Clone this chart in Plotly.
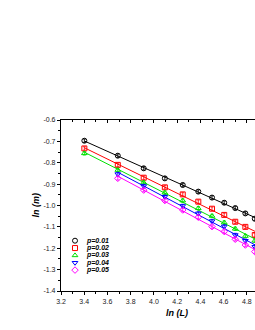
import numpy as np
import plotly.graph_objects as go

# ---- data ----
lnL_all = [3.401, 3.689, 3.912, 4.094, 4.248, 4.382, 4.500, 4.605, 4.700, 4.787, 4.868]
labels = ["p=0.01", "p=0.02", "p=0.03", "p=0.04", "p=0.05"]
p001 = [-0.697, -0.767, -0.826, -0.873, -0.904, -0.935, -0.963, -0.987, -1.012, -1.037, -1.062]
p002 = [-0.733, -0.810, -0.870, -0.915, -0.948, -0.982, -1.015, -1.044, -1.076, -1.100, -1.138]
p003 = [-0.756, -0.834, -0.893, -0.940, -0.977, -1.013, -1.049, -1.080, -1.109, -1.143, -1.165]
p004 = [None, -0.853, -0.909, -0.959, -1.002, -1.037, -1.073, -1.098, -1.138, -1.165, -1.193]
p005 = [None, -0.873, -0.928, -0.977, -1.021, -1.055, -1.099, -1.122, -1.158, -1.185, -1.216]
err = 0.008

series = [p001, p002, p003, p004, p005]
colors = ["#000000", "#FF0000", "#00E000", "#0000FF", "#FF00FF"]
symbols = ["circle-open", "square-open", "triangle-up-open", "triangle-down-open", "diamond-open"]

xticks = [3.2, 3.4, 3.6, 3.8, 4.0, 4.2, 4.4, 4.6, 4.8]
yticks = [-0.6, -0.7, -0.8, -0.9, -1.0, -1.1, -1.2, -1.3, -1.4]

W, H = 255, 330
L, T, B = 61, 120, 291
XR = [3.2, 4.87]
YR = [-1.4, -0.6]

fig = go.Figure()
for ys, c, s, name in zip(series, colors, symbols, labels):
    xs = [x for x, y in zip(lnL_all, ys) if y is not None]
    yv = [y for y in ys if y is not None]
    k, b0 = np.polyfit(xs, yv, 1)
    xf = np.array([xs[0], XR[1] + 0.05])
    fig.add_trace(go.Scatter(x=xf, y=k * xf + b0, mode="lines",
                             line=dict(color=c, width=1), showlegend=False, hoverinfo="skip", cliponaxis=True))
    fig.add_trace(go.Scatter(x=xs, y=yv, mode="markers", name=name,
                             marker=dict(symbol=s, size=5, color=c, line=dict(width=1, color=c)),
                             error_y=dict(type="constant", value=err, color=c, thickness=0.8, width=1.5),
                             showlegend=False, cliponaxis=True))

# hidden trace for top mirror axis
fig.add_trace(go.Scatter(x=[XR[0]], y=[YR[0]], xaxis="x2", yaxis="y", mode="markers",
                         marker=dict(opacity=0), showlegend=False, hoverinfo="skip"))

# manual compact legend (pixel-like coordinates on auxiliary overlaid axes)
leg_x_sym, leg_x_txt, leg_y0, leg_dy = 75, 84, 240.7, 7.35
for i, (name, c, s) in enumerate(zip(labels, colors, symbols)):
    yy = leg_y0 + i * leg_dy
    fig.add_trace(go.Scatter(x=[leg_x_sym], y=[yy], xaxis="x3", yaxis="y3", mode="markers",
                             marker=dict(symbol=s, size=5, color=c, line=dict(width=1, color=c)),
                             showlegend=False, hoverinfo="skip"))
    fig.add_annotation(x=leg_x_txt, y=yy, xref="x3", yref="y3", text="<b><i>%s</i></b>" % name,
                       showarrow=False, xanchor="left", yanchor="middle",
                       font=dict(family="Liberation Sans, Arial", size=7, color="#000"))

axis_font = dict(family="Liberation Sans, Arial", size=7, color="#222")
fig.update_layout(
    width=W, height=H,
    margin=dict(l=L, r=0, t=T, b=H - B),
    plot_bgcolor="white", paper_bgcolor="white",
    showlegend=False,
    xaxis=dict(range=XR, tickvals=xticks, ticktext=["%.1f" % v for v in xticks],
               showline=True, linecolor="black", linewidth=1.2, mirror=False,
               ticks="outside", ticklen=3, tickwidth=1, tickcolor="black",
               minor=dict(dtick=0.1, tick0=3.2, ticks="outside", ticklen=2, tickcolor="black", showgrid=False),
               showgrid=False, zeroline=False, tickfont=axis_font, automargin=False),
    xaxis2=dict(range=XR, overlaying="x", side="top", anchor="y",
                tickvals=xticks, showticklabels=False,
                showline=True, linecolor="black", linewidth=1.2,
                ticks="inside", ticklen=3, tickwidth=1, tickcolor="black",
                minor=dict(dtick=0.1, tick0=3.2, ticks="inside", ticklen=2, tickcolor="black", showgrid=False),
                showgrid=False, zeroline=False),
    yaxis=dict(range=YR, tickvals=yticks, ticktext=["%.1f" % v for v in yticks],
               showline=True, linecolor="black", linewidth=1.2,
               ticks="outside", ticklen=3, tickwidth=1, tickcolor="black",
               minor=dict(dtick=0.05, tick0=-1.4, ticks="outside", ticklen=2, tickcolor="black", showgrid=False),
               showgrid=False, zeroline=False, tickfont=axis_font, automargin=False),
    xaxis3=dict(overlaying="x", range=[L, W], visible=False, anchor="y3", fixedrange=True),
    yaxis3=dict(overlaying="y", range=[B, T], visible=False, anchor="x3", fixedrange=True),
)

title_font = dict(family="Liberation Sans, Arial", size=9, color="#000")
fig.add_annotation(x=4.2, y=0, xref="x", yref="paper", yshift=-22, text="<b><i>ln (L)</i></b>",
                   showarrow=False, yanchor="middle", xanchor="center", font=title_font)
fig.add_annotation(x=0, y=0.5, xref="paper", yref="paper", xshift=-26, text="<b><i>ln (m)</i></b>",
                   showarrow=False, textangle=-90, xanchor="center", yanchor="middle", font=title_font)

fig.write_html("out.html", config={"displayModeBar": False},
               post_script="document.body.style.margin='0px';")
